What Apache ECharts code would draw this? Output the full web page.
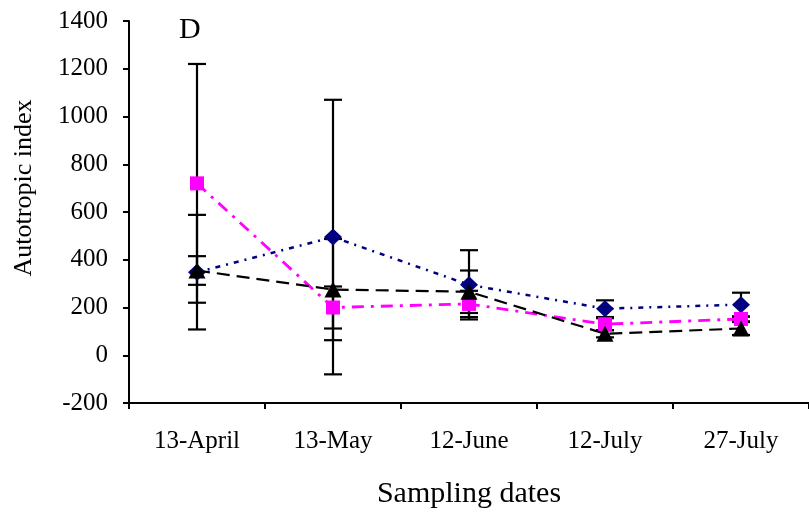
<!DOCTYPE html>
<html>
<head>
<meta charset="utf-8">
<script src="https://cdn.jsdelivr.net/npm/echarts@6/dist/echarts.min.js"></script>
<style>
  html, body { margin: 0; padding: 0; background: #fff; }
  #chart { width: 809px; height: 518px; }
</style>
</head>
<body>
<div id="chart"></div>
<script>
// Sampling dates on the category axis
const categories = ['13-April', '13-May', '12-June', '12-July', '27-July'];

// Autotropic index, one array per station, with symmetric error half-widths
const diamondValues  = [348, 495, 295, 195, 212];
const diamondErrors  = [240, 575, 145, 35, 50];
const squareValues   = [720, 200, 215, 130, 152];
const squareErrors   = [500, 88, 55, 25, 10];
const triangleValues = [355, 275, 266, 90, 112];
const triangleErrors = [60, 212, 89, 15, 27];

// Value axis range and step
const yMin = -200;
const yMax = 1400;
const yStep = 200;

const panelLabel = 'D';
const FONT = "'Liberation Serif', 'Times New Roman', serif";

function errorRows(values, errors) {
  return values.map((v, i) => [i, v - errors[i], v + errors[i]]);
}

function renderErrorBar(params, api) {
  const idx = api.value(0);
  const lo = api.coord([idx, api.value(1)]);
  const hi = api.coord([idx, api.value(2)]);
  const half = 9;
  const style = { stroke: '#000', lineWidth: 2.2 };
  return {
    type: 'group',
    children: [
      { type: 'line', shape: { x1: lo[0], y1: hi[1], x2: lo[0], y2: lo[1] }, style },
      { type: 'line', shape: { x1: lo[0] - half, y1: hi[1], x2: lo[0] + half, y2: hi[1] }, style },
      { type: 'line', shape: { x1: lo[0] - half, y1: lo[1], x2: lo[0] + half, y2: lo[1] }, style }
    ]
  };
}

function errorSeries(values, errors) {
  return {
    type: 'custom',
    renderItem: renderErrorBar,
    data: errorRows(values, errors),
    encode: { x: 0, y: [1, 2] },
    z: 1,
    silent: true
  };
}

const chart = echarts.init(document.getElementById('chart'), null, { renderer: 'canvas' });

chart.setOption({
  animation: false,
  backgroundColor: '#fff',
  textStyle: { fontFamily: FONT, color: '#000' },
  grid: { left: 129, right: -3, top: 21, bottom: 115, containLabel: false },
  xAxis: {
    type: 'category',
    data: categories,
    boundaryGap: true,
    axisLine: { onZero: false, lineStyle: { color: '#000', width: 2 } },
    axisTick: { show: true, interval: 0, length: 6, lineStyle: { color: '#000', width: 2 } },
    axisLabel: { fontFamily: FONT, fontSize: 25, color: '#000', margin: 26, interval: 0 },
    name: 'Sampling dates',
    nameLocation: 'middle',
    nameGap: 76,
    nameTextStyle: { fontFamily: FONT, fontSize: 30, color: '#000' },
    splitLine: { show: false }
  },
  yAxis: {
    type: 'value',
    min: yMin,
    max: yMax,
    interval: yStep,
    axisLine: { show: true, lineStyle: { color: '#000', width: 2 } },
    axisTick: { show: true, length: 6, lineStyle: { color: '#000', width: 2 } },
    axisLabel: {
      fontFamily: FONT,
      fontSize: 25,
      color: '#000',
      margin: 21,
      formatter: v => String(v)
    },
    splitLine: { show: false }
  },
  graphic: [
    {
      type: 'text',
      x: 24,
      y: 188,
      rotation: Math.PI / 2,
      style: {
        text: 'Autotropic index',
        font: '26px ' + FONT,
        fill: '#000',
        align: 'center',
        verticalAlign: 'middle'
      }
    },
    {
      type: 'text',
      x: 179,
      y: 30,
      style: {
        text: panelLabel,
        font: '30px ' + FONT,
        fill: '#000',
        align: 'left',
        verticalAlign: 'middle'
      }
    }
  ],
  series: [
    errorSeries(diamondValues, diamondErrors),
    errorSeries(squareValues, squareErrors),
    errorSeries(triangleValues, triangleErrors),
    {
      type: 'line',
      data: diamondValues,
      symbol: 'diamond',
      symbolSize: [18, 17],
      itemStyle: { color: '#000080' },
      lineStyle: { color: '#000080', width: 2.5, type: [5, 6, 2, 6] },
      z: 3
    },
    {
      type: 'line',
      data: squareValues,
      symbol: 'rect',
      symbolSize: 14,
      itemStyle: { color: '#ff00ff' },
      lineStyle: { color: '#ff00ff', width: 2.8, type: [12, 7, 3, 7] },
      z: 4
    },
    {
      type: 'line',
      data: triangleValues,
      symbol: 'triangle',
      symbolSize: [17, 16],
      itemStyle: { color: '#000' },
      lineStyle: { color: '#000', width: 2.2, type: [13, 7] },
      z: 5
    }
  ]
});
</script>
</body>
</html>
